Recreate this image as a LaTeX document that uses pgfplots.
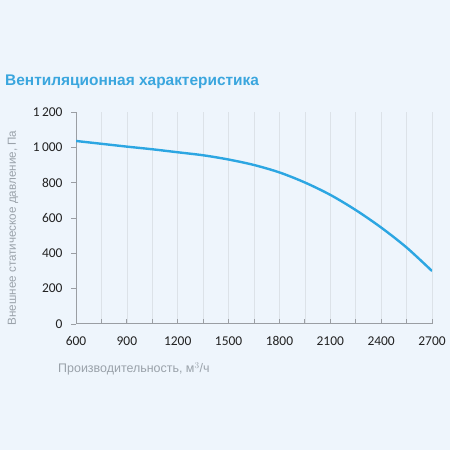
\documentclass[border=0pt]{standalone}
\usepackage{pgfplots}
\pgfplotsset{compat=1.18}
\usepackage{fontspec}
\setmainfont{Liberation Sans}
\newfontfamily\carlito{Carlito}
\definecolor{bg}{HTML}{EEF5FC}
\definecolor{curve}{HTML}{2CA6E2}
\definecolor{titleblue}{HTML}{3AA6DE}
\definecolor{labelgray}{HTML}{9AA2AA}
\definecolor{gridgray}{HTML}{DCE2E8}
\definecolor{axisgray}{HTML}{9A9EA3}
\definecolor{ticktext}{HTML}{222222}
\begin{document}
\begin{tikzpicture}[x=1bp,y=1bp]
\fill[bg] (0,0) rectangle (450,450);
\useasboundingbox (0,0) rectangle (450,450);
\node[anchor=base west, inner sep=0, text=titleblue,
      font=\fontsize{15.5}{19}\selectfont\bfseries] at (5,364) {Вентиляционная характеристика};
\begin{axis}[
  at={(76bp,126bp)}, anchor=origin,
  scale only axis,
  width=356bp, height=212bp,
  xmin=600, xmax=2700, ymin=0, ymax=1200,
  xtick={600,900,...,2700},
  minor xtick={750,1050,...,2550},
  ytick={0,200,...,1200},
  axis x line*=bottom, axis y line*=left,
  axis line style={axisgray, line width=1bp, -},
  xmajorgrids, xminorgrids,
  major grid style={gridgray, line width=0.6bp},
  minor grid style={gridgray, line width=0.6bp},
  major tick length=5bp, minor tick length=5bp,
  xtick style={axisgray, line width=0.8bp},
  xtick align=inside,
  ytick style={axisgray, line width=0.8bp},
  ytick align=outside,
  tick label style={font=\carlito\fontsize{13.5}{16}\selectfont, text=ticktext},
  /pgf/number format/assume math mode=true,
  xticklabel style={/pgf/number format/1000 sep={}, yshift=-9bp},
  yticklabel style={/pgf/number format/1000 sep={\,}, xshift=-5bp},
]
\addplot[curve, line width=2.4bp, smooth] coordinates {
  (600,1036) (750,1020) (900,1004) (1050,989) (1200,972) (1350,955)
  (1500,931) (1650,900) (1800,858) (1950,801) (2100,731) (2250,645)
  (2400,546) (2550,433) (2700,300)
};
\end{axis}
\node[anchor=base west, inner sep=0, text=labelgray,
      font=\fontsize{12.5}{14}\selectfont] at (58,77) {Производительность, м$^3$/ч};
\node[rotate=90, inner sep=0, text=labelgray,
      font=\fontsize{11.7}{14}\selectfont] at (13,222) {Внешнее статическое давление, Па};
\end{tikzpicture}
\end{document}
